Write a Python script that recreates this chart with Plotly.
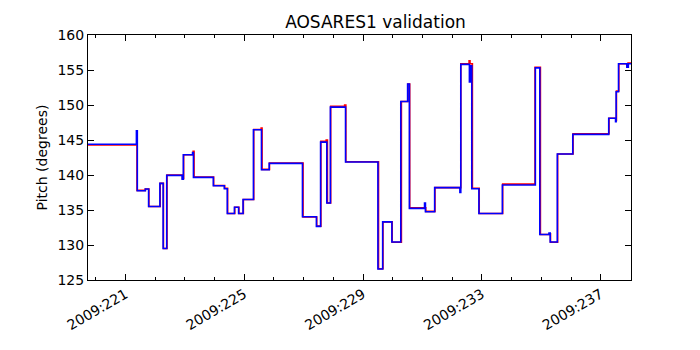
import plotly.graph_objects as go

# Step changes (day of 2009, pitch in degrees)
blue_day = [219.74, 221.37, 221.40, 221.67, 221.78, 222.16, 222.27, 222.39, 222.91, 222.95,
            223.26, 223.29, 223.96, 224.33, 224.43, 224.67, 224.81, 224.96, 225.31, 225.58,
            225.84, 226.96, 227.43, 227.57, 227.78, 227.90, 228.41, 229.50, 229.66, 229.97,
            230.27, 230.50, 230.56, 231.07, 231.10, 231.41, 232.26, 232.29, 232.58, 232.62,
            232.66, 232.90, 233.69, 234.80, 234.95, 235.26, 235.30, 235.54, 236.06, 237.27,
            237.50, 237.52, 237.60, 237.88, 237.93, 238.02]
blue_pitch = [144.4, 146.3, 137.76, 138.0, 135.5, 138.8, 129.5, 139.94, 139.4, 142.9,
              143.2, 139.66, 138.47, 138.04, 134.5, 135.4, 134.5, 136.5, 146.47, 140.76,
              141.66, 134.04, 132.66, 144.7, 136.0, 149.7, 141.86, 126.57, 133.3, 130.43,
              150.5, 153.0, 135.23, 136.0, 134.76, 138.2, 137.5, 155.8, 153.3, 155.6,
              138.04, 134.5, 138.57, 155.3, 131.5, 131.7, 130.43, 143.0, 145.8, 148.1,
              147.6, 151.9, 155.9, 155.4, 155.9, 156.0]

red_day = [219.74, 221.39, 221.67, 221.79, 222.17, 222.28, 222.40, 222.92, 222.96, 223.28,
           223.31, 223.97, 224.34, 224.44, 224.68, 224.82, 224.97, 225.32, 225.57, 225.60,
           225.85, 226.98, 227.44, 227.58, 227.76, 227.80, 227.91, 228.38, 228.42, 229.52,
           229.67, 229.98, 230.29, 230.51, 230.57, 231.11, 231.42, 232.29, 232.57, 232.60,
           232.68, 232.91, 233.70, 234.79, 234.97, 235.27, 235.31, 235.55, 236.07, 237.28,
           237.51, 237.53, 237.61, 237.88, 237.92, 238.02]
red_pitch = [144.3, 137.8, 138.0, 135.5, 138.8, 129.5, 140.0, 139.5, 142.9, 143.4,
             139.7, 138.5, 138.1, 134.5, 135.4, 134.5, 136.5, 146.5, 146.7, 140.8,
             141.7, 134.0, 132.7, 144.8, 145.0, 136.0, 149.8, 150.0, 141.9, 126.6,
             133.3, 130.4, 150.5, 153.0, 135.3, 134.8, 138.2, 155.9, 156.3, 155.9,
             138.1, 134.5, 138.7, 155.4, 131.5, 131.6, 130.4, 143.0, 145.9, 148.1,
             147.8, 152.0, 155.9, 155.6, 156.0, 156.0]

tick_days = [221, 225, 229, 233, 237]
tick_text = [f"2009:{d}" for d in tick_days]

fig = go.Figure()

fig.add_trace(go.Scatter(x=red_day, y=red_pitch, mode='lines', line_shape='hv',
                         line=dict(color='red', width=1.6), showlegend=False))
fig.add_trace(go.Scatter(x=blue_day, y=blue_pitch, mode='lines', line_shape='hv',
                         line=dict(color='blue', width=1.6), showlegend=False))

font = dict(family="DejaVu Sans", size=14, color='black')

# page body adds an 8px offset, so margins are shifted to compensate
fig.update_layout(
    width=700,
    height=350,
    margin=dict(l=80, r=77, t=27, b=78),
    plot_bgcolor='white',
    paper_bgcolor='white',
    font=font,
    title=dict(text="AOSARES1 validation", x=0.525, xanchor='center',
               y=0.96, yanchor='middle', font=dict(family="DejaVu Sans", size=17)),
    xaxis=dict(
        range=[219.74, 238.02],
        tickvals=tick_days,
        ticktext=tick_text,
        tickangle=-30,
        ticks='inside', ticklen=6, tickcolor='black',
        minor=dict(dtick=1, tick0=221, ticks='inside', ticklen=3, tickcolor='black'),
        showline=True, linecolor='black', linewidth=1, mirror='allticks',
        showgrid=False, zeroline=False,
        tickfont=font,
    ),
    yaxis=dict(
        range=[125, 160],
        dtick=5,
        ticks='inside', ticklen=6, tickcolor='black',
        showline=True, linecolor='black', linewidth=1, mirror='allticks',
        showgrid=False, zeroline=False,
        title=dict(text="Pitch (degrees)", font=font, standoff=6),
        tickfont=font,
    ),
)

fig.write_html("out.html")
